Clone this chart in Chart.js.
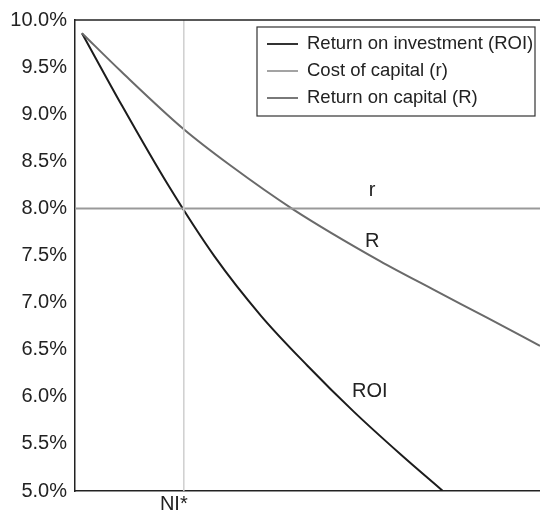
<!DOCTYPE html>
<html>
<head>
<meta charset="utf-8">
<script src="https://cdn.jsdelivr.net/npm/chart.js@4.4.1/dist/chart.umd.min.js"></script>
<style>
  html, body { margin: 0; padding: 0; background: #fff; }
  #wrap { width: 540px; height: 516px; position: relative; }
</style>
</head>
<body>
<div id="wrap"><canvas id="grafico"></canvas></div>
<script>
// datos (x en unidades relativas 0-100)
var roiX = [1.5, 10, 20, 30, 40, 50, 60, 70, 79.1];
var roiY = [9.86, 9.10, 8.25, 7.49, 6.86, 6.33, 5.84, 5.39, 5.00];
var capX = [1.5, 10, 23.4, 33.3, 46.9, 65.6, 77.0, 88.6, 100];
var capY = [9.86, 9.45, 8.84, 8.46, 7.99, 7.44, 7.14, 6.84, 6.54];
var costOfCapital = 8.0;
var niStar = 23.4;
var yMin = 5.0, yMax = 10.0, yStep = 0.5;

var FONT = "'Liberation Sans', Arial, sans-serif";

function pares(xs, ys) {
    return xs.map(function (x, i) { return { x: x, y: ys[i] }; });
}

// marco superior, etiquetas de las curvas y leyenda con borde
var extras = {
    id: "extras",
    afterDatasetsDraw: function (chart) {
        var ctx = chart.ctx;
        var a = chart.chartArea;
        var sx = chart.scales.x, sy = chart.scales.y;
        ctx.save();
        ctx.strokeStyle = "#222";
        ctx.lineWidth = 1.5;
        ctx.beginPath();
        ctx.moveTo(a.left, a.top);
        ctx.lineTo(a.right, a.top);
        ctx.stroke();

        ctx.fillStyle = "#222";
        ctx.font = "20px " + FONT;
        ctx.textAlign = "center";
        ctx.textBaseline = "middle";
        ctx.fillText("r", sx.getPixelForValue(63.9), sy.getPixelForValue(8.19));
        ctx.fillText("R", sx.getPixelForValue(63.9), sy.getPixelForValue(7.65));
        ctx.fillText("ROI", sx.getPixelForValue(63.4), sy.getPixelForValue(6.06));

        // leyenda
        var bx = 257, by = 27, bw = 278, bh = 89;
        ctx.fillStyle = "#fff";
        ctx.fillRect(bx, by, bw, bh);
        ctx.strokeStyle = "#333";
        ctx.lineWidth = 1.2;
        ctx.strokeRect(bx, by, bw, bh);
        ctx.font = "18.5px " + FONT;
        ctx.textAlign = "left";
        var items = chart.data.datasets.filter(function (d) { return d.enLeyenda; });
        items.sort(function (p, q) { return p.ordenLeyenda - q.ordenLeyenda; });
        items.forEach(function (d, i) {
            var y = by + 17 + i * 27;
            ctx.strokeStyle = d.borderColor;
            ctx.lineWidth = 1.8;
            ctx.beginPath();
            ctx.moveTo(bx + 10, y);
            ctx.lineTo(bx + 41, y);
            ctx.stroke();
            ctx.fillStyle = "#222";
            ctx.fillText(d.label, bx + 50, y);
        });
        ctx.restore();
    }
};

var ctx = document.getElementById("grafico").getContext("2d");
var myChart = new Chart(ctx, {
    type: "line",
    data: {
        datasets: [
            {
                label: "NI*",
                data: [{ x: niStar, y: yMin }, { x: niStar, y: yMax }],
                borderColor: "#cfcfcf",
                borderWidth: 1.5,
                enLeyenda: false
            },
            {
                label: "Cost of capital (r)",
                data: [{ x: 0, y: costOfCapital }, { x: 100, y: costOfCapital }],
                borderColor: "#999999",
                borderWidth: 2,
                enLeyenda: true,
                ordenLeyenda: 2
            },
            {
                label: "Return on capital (R)",
                data: pares(capX, capY),
                borderColor: "#6a6a6a",
                borderWidth: 2,
                cubicInterpolationMode: "monotone",
                enLeyenda: true,
                ordenLeyenda: 3
            },
            {
                label: "Return on investment (ROI)",
                data: pares(roiX, roiY),
                borderColor: "#1c1c1c",
                borderWidth: 2,
                cubicInterpolationMode: "monotone",
                enLeyenda: true,
                ordenLeyenda: 1
            }
        ]
    },
    options: {
        responsive: true,
        maintainAspectRatio: false,
        animation: false,
        events: [],
        elements: { point: { radius: 0 } },
        layout: { padding: { top: 17, right: 0, left: 0, bottom: 0 } },
        plugins: { legend: { display: false }, tooltip: { enabled: false } },
        scales: {
            x: {
                type: "linear",
                min: 0,
                max: 100,
                grid: { display: false, drawTicks: false },
                border: { display: true, color: "#222", width: 1.5 },
                afterBuildTicks: function (scale) { scale.ticks = [{ value: niStar }]; },
                afterFit: function (scale) { scale.height = 25; },
                ticks: {
                    padding: 1,
                    labelOffset: -10,
                    color: "#222",
                    font: { family: FONT, size: 20 },
                    callback: function () { return "NI*"; }
                }
            },
            y: {
                min: yMin,
                max: yMax,
                grid: { display: false, drawTicks: false },
                border: { display: true, color: "#222", width: 1.5 },
                afterFit: function (scale) { scale.width = 75; },
                ticks: {
                    stepSize: yStep,
                    padding: 8,
                    color: "#222",
                    font: { family: FONT, size: 20 },
                    callback: function (v) { return v.toFixed(1) + "%"; }
                }
            }
        }
    },
    plugins: [extras]
});
</script>
</body>
</html>
